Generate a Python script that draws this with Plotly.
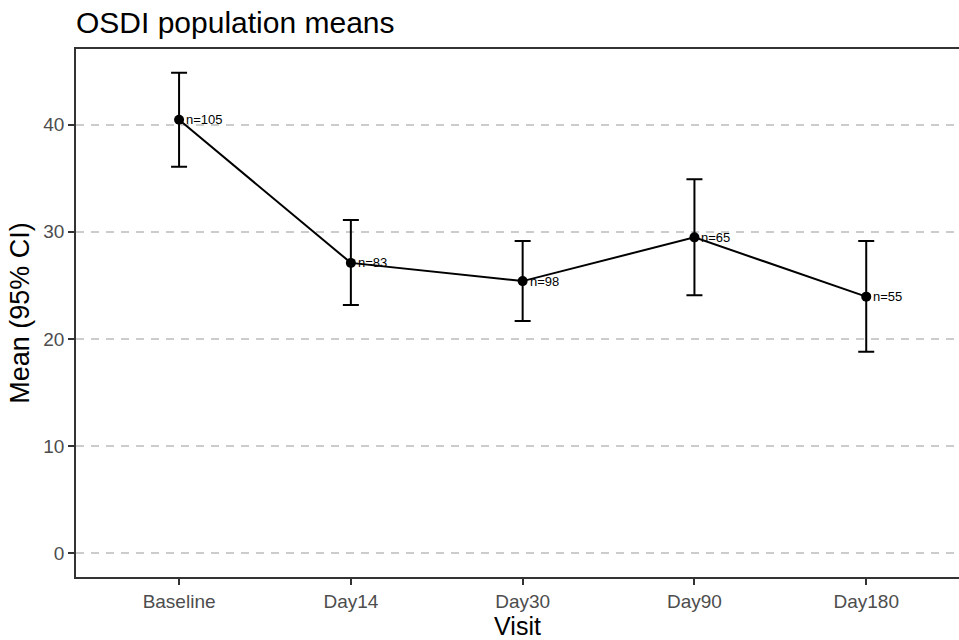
import plotly.graph_objects as go

visits = ["Baseline", "Day14", "Day30", "Day90", "Day180"]
means = [40.45, 27.10, 25.40, 29.48, 23.95]
ci_lower = [36.06, 23.17, 21.68, 24.07, 18.80]
ci_upper = [44.83, 31.10, 29.14, 34.89, 29.14]
n_labels = ["n=105", "n=83", "n=98", "n=65", "n=55"]
y_ticks = [0, 10, 20, 30, 40]

err_plus = [u - m for u, m in zip(ci_upper, means)]
err_minus = [m - l for m, l in zip(means, ci_lower)]

fig = go.Figure()
fig.add_trace(go.Scatter(
    x=visits, y=means, mode="lines+markers",
    line=dict(color="black", width=2),
    marker=dict(color="black", size=10),
    error_y=dict(type="data", symmetric=False, array=err_plus, arrayminus=err_minus,
                 color="black", thickness=2, width=8),
    showlegend=False,
))

for v, m, t in zip(visits, means, n_labels):
    fig.add_annotation(x=v, y=m, text=t, showarrow=False, xanchor="left", yanchor="middle",
                       xshift=5, font=dict(family="Liberation Sans, Arial", size=13, color="black"))

fig.update_layout(
    width=959, height=640,
    margin=dict(l=76, r=0, t=49, b=63),
    paper_bgcolor="white", plot_bgcolor="white",
    font=dict(family="Liberation Sans, Arial", color="black"),
    title=dict(text="OSDI population means", x=76/959, xanchor="left", xref="container",
               y=1 - 22/640, yanchor="middle", yref="container",
               font=dict(size=30, color="black")),
)
fig.update_xaxes(
    type="category", categoryorder="array", categoryarray=visits,
    range=[-0.6, 4.54], showgrid=False, zeroline=False,
    showline=True, linecolor="#333333", linewidth=1.5, mirror=True,
    ticks="outside", ticklen=6, tickwidth=1.5, tickcolor="#333333",
    tickfont=dict(size=19, color="#4d4d4d"),
    title=dict(text="Visit", font=dict(size=25, color="black"), standoff=0),
)
fig.update_yaxes(
    range=[-2.2, 47.05], tickvals=y_ticks, showgrid=True, gridcolor="#cccccc",
    gridwidth=1.5, griddash="8px,7px", zeroline=False,
    showline=True, linecolor="#333333", linewidth=1.5,
    ticks="outside", ticklen=6, tickwidth=1.5, tickcolor="#333333",
    tickfont=dict(size=19, color="#4d4d4d"),
    title=dict(text="Mean (95% CI)", font=dict(size=27, color="black"), standoff=6),
)

fig.write_html("out.html", config={"displayModeBar": False},
               post_script="document.body.style.margin='0';document.body.style.overflow='hidden';")
